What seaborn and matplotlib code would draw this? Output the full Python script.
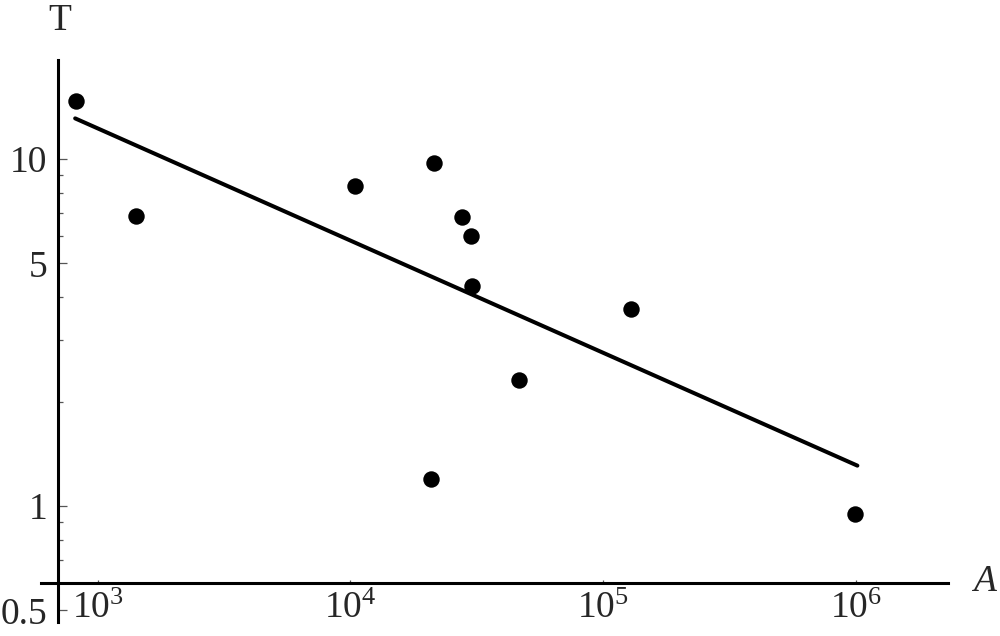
import numpy as np
import pandas as pd
import seaborn as sns
import matplotlib
matplotlib.use("Agg")
import matplotlib.pyplot as plt
from matplotlib.ticker import FixedLocator, FixedFormatter, NullLocator

# ---------------------------------------------------------
# data (log-log scatter + fitted line)
# ---------------------------------------------------------
A_vals = [820, 1420, 10450, 21460, 27700, 30000, 30340, 128800, 46430, 20830, 994500]
T_vals = [14.7, 6.87, 8.38, 9.72, 6.79, 6.01, 4.30, 3.69, 2.31, 1.194, 0.948]

# fitted power-law line, end points
fit_A = [815, 1.016e6]
fit_T = [13.1, 1.307]

x_ticks = [1e3, 1e4, 1e5, 1e6]
x_labels = [r"$\mathregular{10^{3}}$", r"$\mathregular{10^{4}}$",
            r"$\mathregular{10^{5}}$", r"$\mathregular{10^{6}}$"]
y_ticks = [0.5, 1, 5, 10]
y_labels = ["0.5", "1", "5", "10"]
y_minor = [0.7, 0.8, 0.9, 2, 3, 4, 6, 7, 8, 9]

pts = pd.DataFrame({"A": A_vals, "T": T_vals})
fit = pd.DataFrame({"A": fit_A, "T": fit_T})

# ---------------------------------------------------------
# style
# ---------------------------------------------------------
sns.set_theme(style="white")
plt.rcParams["font.family"] = ["Liberation Serif", "DejaVu Serif"]
plt.rcParams["mathtext.fontset"] = "custom"
plt.rcParams["mathtext.rm"] = "Liberation Serif"
plt.rcParams["mathtext.it"] = "Liberation Serif:italic"

fig = plt.figure(figsize=(10, 6.36), dpi=100)
ax = fig.add_axes([0.041, 1 - 622 / 636, 0.907, (622 - 60) / 636])
ax.set_xscale("log")
ax.set_yscale("log")

sns.lineplot(data=fit, x="A", y="T", color="black", linewidth=2.9, ax=ax, zorder=2)
sns.scatterplot(data=pts, x="A", y="T", color="black", s=140, linewidth=0, ax=ax, zorder=3)

ax.set_xlim(597, 2.32e6)
ax.set_ylim(0.463, 19.3)

# Mathematica-like crossing axes
for side in ["top", "right"]:
    ax.spines[side].set_visible(False)
ax.spines["left"].set_position(("data", 700))
ax.spines["bottom"].set_position(("data", 0.6))
for side in ["left", "bottom"]:
    ax.spines[side].set_linewidth(2.2)
    ax.spines[side].set_color("black")

ax.xaxis.set_major_locator(FixedLocator(x_ticks))
ax.xaxis.set_major_formatter(FixedFormatter(x_labels))
ax.xaxis.set_minor_locator(NullLocator())
ax.yaxis.set_major_locator(FixedLocator(y_ticks))
ax.yaxis.set_major_formatter(FixedFormatter(y_labels))
ax.yaxis.set_minor_locator(FixedLocator(y_minor))

ax.tick_params(axis="x", which="major", bottom=True, direction="in", length=2.5, width=0.9,
               color="#555555", labelsize=27, pad=6)
ax.tick_params(axis="y", which="both", left=True, direction="in", width=0.9, color="#555555")
ax.tick_params(axis="y", which="major", length=6.8, labelsize=27, pad=8)
ax.tick_params(axis="y", which="minor", length=3.8)

ax.set_xlabel("")
ax.set_ylabel("")
fig.text(0.060, 1 - 21 / 636, "T", ha="center", va="center", fontsize=27)
fig.text(0.984, 1 - 582 / 636, "A", ha="center", va="center", fontsize=27, style="italic")

fig.savefig("out.png", dpi=100, facecolor="white")
